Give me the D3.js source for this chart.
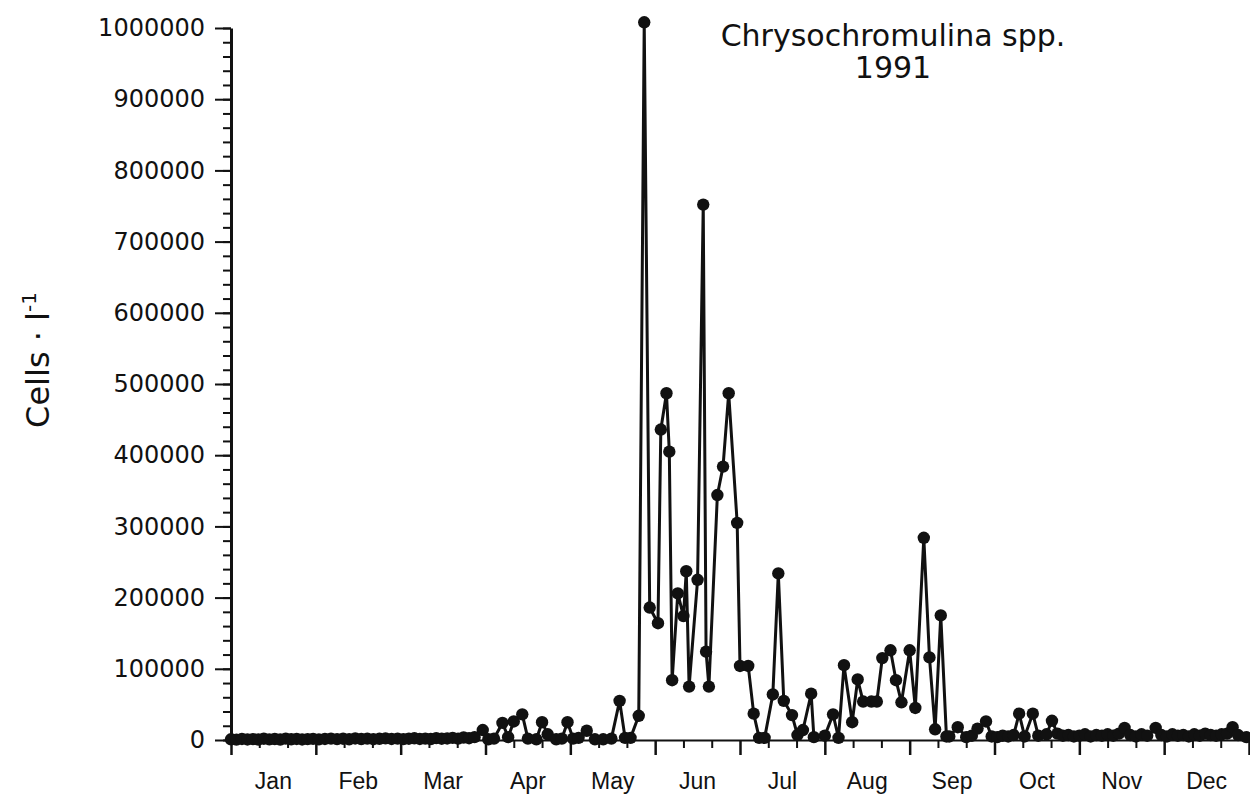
<!DOCTYPE html>
<html><head><meta charset="utf-8">
<script src="https://cdn.jsdelivr.net/npm/d3@7"></script>
<style>
body{margin:0;background:#fff}
svg{display:block}
</style>
</head><body>
<svg id="chart" width="1250" height="799"></svg>
<script>
// ---- data ----
const monthLabels = ["Jan","Feb","Mar","Apr","May","Jun","Jul","Aug","Sep","Oct","Nov","Dec"];
const yTickValues = [0,100000,200000,300000,400000,500000,600000,700000,800000,900000,1000000];
const titleLines = ["Chrysochromulina spp.","1991"];

const sampleDates = [
  "01-01","01-03","01-05","01-07","01-09","01-11","01-13","01-15","01-17","01-19","01-21","01-23","01-25","01-27","01-29","01-31",
  "02-02","02-04","02-06","02-08","02-10","02-12","02-14","02-16","02-18","02-20","02-22","02-24","02-26","02-28",
  "03-02","03-04","03-06","03-08","03-10","03-12","03-14","03-16","03-18","03-20","03-22","03-24","03-26","03-28","03-31",
  "04-02","04-04","04-07","04-09","04-11","04-14","04-16","04-19","04-21","04-23","04-26","04-28","04-30",
  "05-02","05-04","05-07","05-10","05-13","05-16","05-19","05-21","05-23","05-26","05-28","05-30",
  "06-02","06-03","06-05","06-06","06-07","06-09","06-11","06-12","06-13","06-16","06-18","06-19","06-20","06-23","06-25","06-27","06-30",
  "07-01","07-04","07-06","07-08","07-10","07-13","07-15","07-17","07-20","07-22","07-24","07-27","07-28",
  "08-01","08-04","08-06","08-08","08-11","08-13","08-15","08-18","08-20","08-22","08-25","08-27","08-29",
  "09-01","09-03","09-06","09-08","09-10","09-12","09-14","09-15","09-18","09-21","09-23","09-25","09-28","09-30",
  "10-02","10-04","10-06","10-08","10-10","10-12","10-15","10-17","10-20","10-22","10-24","10-26","10-28","10-30",
  "11-01","11-03","11-05","11-07","11-09","11-11","11-13","11-15","11-17","11-19","11-21","11-23","11-25","11-28","11-30",
  "12-02","12-04","12-06","12-08","12-10","12-12","12-14","12-16","12-18","12-20","12-22","12-24","12-26","12-28","12-31"
];
const cellCounts = [
  1000,500,1500,800,1200,600,1800,900,1400,700,2000,1000,1500,800,1200,1600,
  900,1500,2000,1200,1800,1000,2200,1400,1900,1100,1700,2300,1500,2000,
  1200,1800,2400,1500,2000,1300,2600,1800,2200,3000,2000,3500,2500,4000,14000,
  1000,2000,24000,4000,26000,36000,2000,1000,25000,8000,1000,2000,25000,
  2000,3000,13000,1000,1000,2000,55000,3000,3000,34000,1008000,186000,
  164000,436000,487000,405000,84000,206000,174000,237000,75000,225000,752000,124000,75000,344000,384000,487000,305000,
  104000,104000,37000,3000,3000,64000,234000,55000,35000,7000,14000,65000,4000,
  6000,36000,3000,105000,25000,85000,54000,54000,54000,115000,126000,84000,53000,
  126000,45000,284000,116000,15000,175000,5000,5000,18000,4000,6000,16000,26000,5000,
  4000,6000,5000,7000,37000,5000,37000,6000,8000,27000,9000,6000,7000,5000,
  6000,8000,5000,7000,6000,8000,6000,9000,17000,7000,5000,8000,6000,17000,7000,
  5000,8000,6000,7000,5000,8000,6000,9000,7000,6000,8000,9000,18000,7000,4000
];

// ---- build ----
const year = 1991;
const parse = d3.timeParse("%Y-%m-%d");
const points = sampleDates.map((s, i) => {
  const dt = parse(year + "-" + s);
  const m = dt.getMonth();
  const dim = new Date(year, m + 1, 0).getDate();
  return { pos: m + (dt.getDate() - 1) / dim, value: cellCounts[i] };
});

const svg = d3.select("#chart");
const x = d3.scaleLinear().domain([0, 12]).range([231, 1249]);
const y = d3.scaleLinear().domain([0, 1000000]).range([740, 28]);

const ink = "#111";

// y axis minor
svg.append("g").attr("transform", "translate(231,0)")
  .call(d3.axisLeft(y).tickValues(d3.range(0, 1000001, 20000)).tickSize(8).tickSizeOuter(0).tickFormat(""))
  .call(g => g.select(".domain").remove())
  .call(g => g.selectAll("line").attr("stroke", ink).attr("stroke-width", 2));

// y axis major
svg.append("g").attr("transform", "translate(231,0)")
  .call(d3.axisLeft(y).tickValues(yTickValues).tickSize(16).tickSizeOuter(0).tickPadding(10).tickFormat(d3.format("d")))
  .call(g => g.select(".domain").attr("stroke", ink).attr("stroke-width", 3))
  .call(g => g.selectAll("line").attr("stroke", ink).attr("stroke-width", 2))
  .call(g => g.selectAll("text").attr("fill", ink).attr("font-family", "'DejaVu Sans', sans-serif").attr("font-size", 24));

// x axis minor (thirds of months)
svg.append("g").attr("transform", "translate(0,740)")
  .call(d3.axisBottom(x).tickValues(d3.range(0, 36).filter(k => k % 3 !== 0).map(k => k / 3)).tickSize(8).tickSizeOuter(0).tickFormat(""))
  .call(g => g.select(".domain").remove())
  .call(g => g.selectAll("line").attr("stroke", ink).attr("stroke-width", 2));

// x axis major
svg.append("g").attr("transform", "translate(0,740)")
  .call(d3.axisBottom(x).tickValues(d3.range(0, 13)).tickSize(15).tickSizeOuter(0).tickFormat(""))
  .call(g => g.select(".domain").attr("stroke", ink).attr("stroke-width", 2))
  .call(g => g.selectAll("line").attr("stroke", ink).attr("stroke-width", 2.5));

// month labels
svg.append("g").selectAll("text").data(monthLabels).join("text")
  .attr("x", (d, i) => x(i + 0.5))
  .attr("y", 789)
  .attr("text-anchor", "middle")
  .attr("font-family", "'Liberation Sans', Arial, sans-serif")
  .attr("font-size", 23)
  .attr("fill", ink)
  .text(d => d);

// data line
const line = d3.line().x(d => x(d.pos)).y(d => y(d.value));
svg.append("path").datum(points)
  .attr("d", line).attr("fill", "none").attr("stroke", ink)
  .attr("stroke-width", 3).attr("stroke-linejoin", "round");

svg.append("g").selectAll("circle").data(points).join("circle")
  .attr("cx", d => x(d.pos)).attr("cy", d => y(d.value)).attr("r", 6.2).attr("fill", ink);

// title
svg.append("g").selectAll("text").data(titleLines).join("text")
  .attr("x", 893).attr("y", (d, i) => 46 + i * 32)
  .attr("text-anchor", "middle")
  .attr("font-family", "'DejaVu Sans', sans-serif")
  .attr("font-size", 30)
  .attr("fill", ink)
  .text(d => d);

// y label
const yl = svg.append("text")
  .attr("transform", "translate(49,360) rotate(-90)")
  .attr("text-anchor", "middle")
  .attr("font-family", "'DejaVu Sans', sans-serif")
  .attr("font-size", 32)
  .attr("fill", ink);
yl.append("tspan").text("Cells · l");
yl.append("tspan").attr("dy", -13).attr("font-size", 20).text("-1");
</script>
</body></html>
